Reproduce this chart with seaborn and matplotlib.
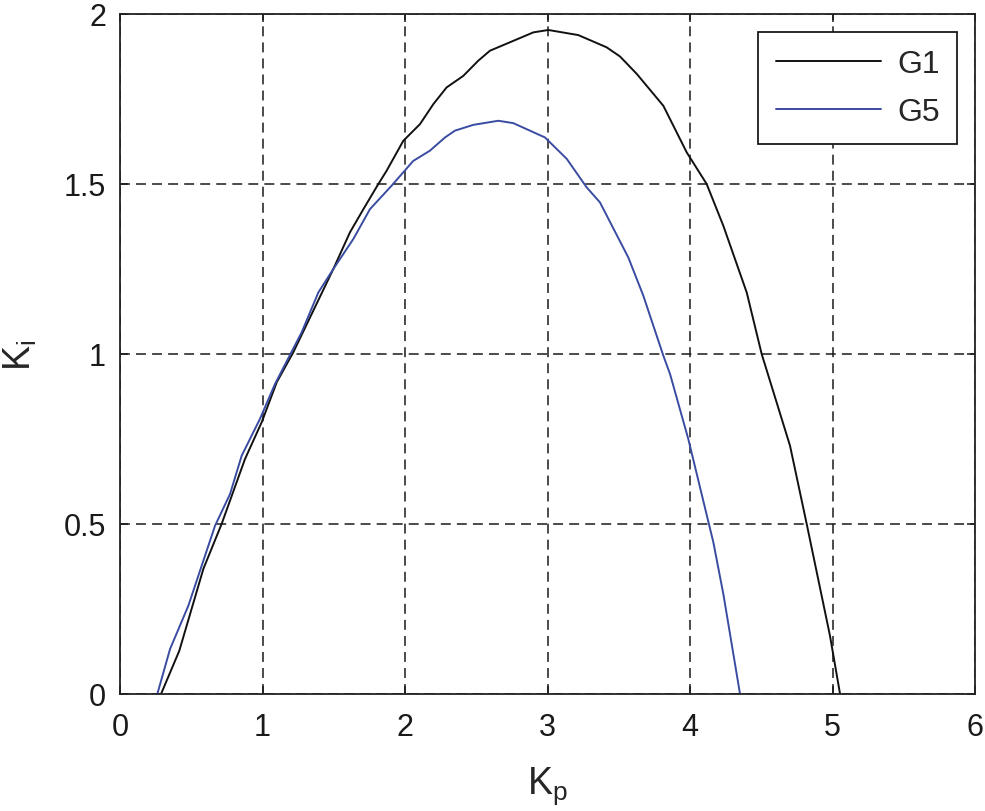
import numpy as np
import pandas as pd
import matplotlib
matplotlib.use("Agg")
import matplotlib.pyplot as plt
import seaborn as sns

# ── Stability boundary curves (Kp, Ki) ──
g1_kp = [0.288, 0.416, 0.585, 0.713, 0.877, 0.994, 1.100, 1.216, 1.497, 1.614,
         1.708, 1.813, 1.871, 1.988, 2.105, 2.199, 2.292, 2.409, 2.515, 2.596,
         2.760, 2.901, 3.006, 3.216, 3.415, 3.509, 3.626, 3.813, 3.977, 4.117,
         4.234, 4.398, 4.503, 4.702, 4.819, 4.982, 5.053]
g1_ki = [0.000, 0.127, 0.368, 0.500, 0.691, 0.799, 0.917, 1.005, 1.250, 1.358,
         1.426, 1.500, 1.539, 1.627, 1.676, 1.735, 1.784, 1.818, 1.863, 1.892,
         1.921, 1.946, 1.953, 1.938, 1.902, 1.875, 1.824, 1.730, 1.593, 1.500,
         1.377, 1.181, 1.000, 0.730, 0.500, 0.172, 0.000]

g5_kp = [0.262, 0.351, 0.480, 0.573, 0.667, 0.772, 0.854, 0.982, 1.088, 1.275,
         1.392, 1.497, 1.637, 1.754, 1.906, 2.058, 2.175, 2.281, 2.351, 2.480,
         2.655, 2.760, 2.982, 3.135, 3.275, 3.368, 3.567, 3.672, 3.813, 3.860,
         3.988, 4.164, 4.234, 4.351]
g5_ki = [0.000, 0.132, 0.260, 0.377, 0.495, 0.588, 0.701, 0.809, 0.912, 1.064,
         1.181, 1.250, 1.338, 1.426, 1.495, 1.568, 1.598, 1.637, 1.657, 1.674,
         1.686, 1.679, 1.637, 1.574, 1.490, 1.446, 1.284, 1.172, 0.995, 0.941,
         0.750, 0.446, 0.294, 0.000]

x_ticks = [0, 1, 2, 3, 4, 5, 6]
y_ticks = [0, 0.5, 1, 1.5, 2]
y_tick_labels = ["0", "0.5", "1", "1.5", "2"]

df = pd.concat([
    pd.DataFrame({"Kp": g1_kp, "Ki": g1_ki, "curve": "G1"}),
    pd.DataFrame({"Kp": g5_kp, "Ki": g5_ki, "curve": "G5"}),
], ignore_index=True)

sns.set_theme(style="ticks")
plt.rcParams["font.family"] = ["Liberation Sans", "DejaVu Sans"]
plt.rcParams["mathtext.fontset"] = "custom"
plt.rcParams["mathtext.rm"] = "Liberation Sans"
plt.rcParams["mathtext.it"] = "Liberation Sans"

fig = plt.figure(figsize=(9.85, 8.12), dpi=100)
ax = fig.add_axes([120 / 985, 1 - 695 / 812, 855 / 985, 680 / 812])

sns.lineplot(data=df, x="Kp", y="Ki", hue="curve",
             palette={"G1": "#111111", "G5": "#3a4ca2"},
             estimator=None, sort=False, linewidth=1.4, ax=ax)

ax.set_xlim(0, 6)
ax.set_ylim(0, 2)
ax.set_xticks(x_ticks)
ax.set_yticks(y_ticks)
ax.set_yticklabels(y_tick_labels)
ax.grid(True, color="#1a1a1a", linestyle=(0, (6.5, 4.0)), linewidth=1.1)
ax.tick_params(direction="in", length=6, width=1.1, top=True, right=True,
               labelsize=22, colors="#1a1a1a", pad=10)
ax.tick_params(axis="x", pad=13)
for sp in ax.spines.values():
    sp.set_visible(True)
    sp.set_color("#222222")
    sp.set_linewidth(1.3)

ax.set_xlabel(r"K$_\mathregular{p}$", fontsize=27, labelpad=16)
ax.set_ylabel(r"K$_\mathregular{i}$", fontsize=27, labelpad=18)

leg = ax.legend(loc="upper right", fontsize=23, frameon=True, fancybox=False,
                framealpha=1, edgecolor="#1a1a1a", handlelength=3.3,
                handletextpad=0.5, labelspacing=0.55, borderaxespad=0.55,
                borderpad=0.55, title=None)
leg.get_frame().set_linewidth(1.3)

plt.savefig("out.png", dpi=100)
